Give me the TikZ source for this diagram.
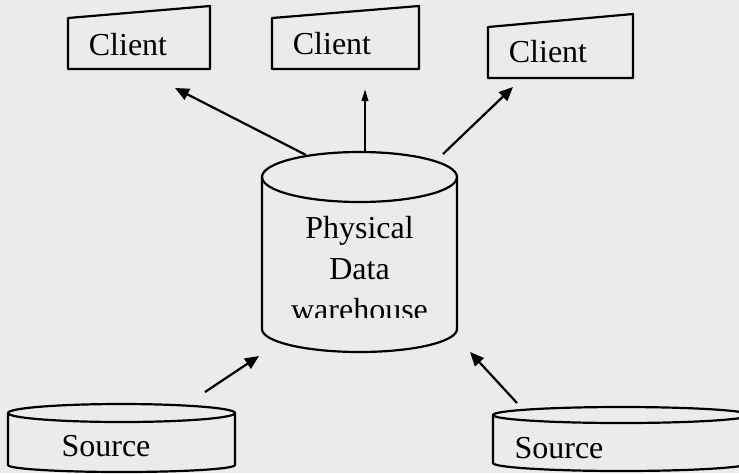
\documentclass[tikz,border=0pt]{standalone}
\usepackage{fontspec}
\setmainfont{Liberation Serif}
\usetikzlibrary{arrows.meta}
\definecolor{bg}{RGB}{234,235,234}
\tikzset{
  shape line/.style={draw=black, line width=1.1pt, line join=round},
  lbl/.style={inner sep=0pt, font=\fontsize{16}{19}\selectfont},
  conn/.style={line width=1.1pt, -{Triangle[length=7pt,width=6pt]}},
  thinconn/.style={line width=1.1pt, -{Triangle[length=6pt,width=3.2pt]}}
}
\begin{document}
\begin{tikzpicture}[x=0.5pt,y=-0.5pt]
\fill[bg] (0,0) rectangle (739,473);
\useasboundingbox (0,0) rectangle (739,473);
\clip (0,0) rectangle (739,473);

% Client boxes
\draw[shape line] (68,18) -- (210,6) -- (210,69) -- (68,69) -- cycle;
\draw[shape line] (272,18) -- (419,6) -- (419,69) -- (272,69) -- cycle;
\draw[shape line] (488,27) -- (633,14) -- (633,78) -- (488,78) -- cycle;
\node[lbl] (c1) at (128,45) {Client};
\node[lbl] (c2) at (332,44) {Client};
\node[lbl] (c3) at (548,52) {Client};

% Central warehouse cylinder
\draw[shape line] (359.5,177) ellipse [x radius=48.75pt, y radius=12.5pt];
\draw[shape line] (262,177) -- (262,329) arc[start angle=180, end angle=360, x radius=48.75pt, y radius=11.5pt] -- (457,177);
\node[lbl, anchor=base] (w1) at (359.5,238) {Physical};
\node[lbl, anchor=base] (w2) at (359.5,279) {Data};
\begin{scope}
\clip (262,290) rectangle (457,317.5);
\node[lbl, anchor=base] (w3) at (359.5,320) {warehouse};
\end{scope}

% Source cylinders
\draw[shape line] (121.5,413) ellipse [x radius=56.75pt, y radius=4.5pt];
\draw[shape line] (8,413) -- (8,465) arc[start angle=180, end angle=360, x radius=56.75pt, y radius=3.5pt] -- (235,413);
\node[lbl] (s1) at (106,446) {Source};

\draw[shape line] (621.5,415) ellipse [x radius=64.25pt, y radius=4pt];
\draw[shape line] (493,415) -- (493,463) arc[start angle=180, end angle=360, x radius=64.25pt, y radius=4pt] -- (750,415);
\node[lbl] (s2) at (559,448) {Source};

% Connector end points
\coordinate (t1) at (306,155);
\coordinate (h1) at (175,88);
\coordinate (t2) at (365,152);
\coordinate (h2) at (365,89);
\coordinate (t3) at (443,154);
\coordinate (h3) at (513,87);
\coordinate (t4) at (205,392);
\coordinate (h4) at (259,356);
\coordinate (t5) at (517,403);
\coordinate (h5) at (470,352);

\draw[conn] (t1) -- (h1);
\draw[thinconn] (t2) -- (h2);
\draw[conn] (t3) -- (h3);
\draw[conn] (t4) -- (h4);
\draw[conn] (t5) -- (h5);
\end{tikzpicture}
\end{document}
